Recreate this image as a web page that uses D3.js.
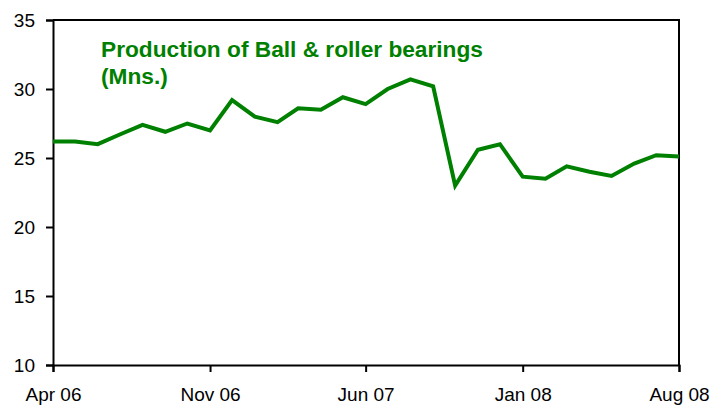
<!DOCTYPE html>
<html>
<head>
<meta charset="utf-8">
<script src="https://cdn.jsdelivr.net/npm/d3@7"></script>
<style>
  body { margin: 0; background: #fff; }
  svg { display: block; font-family: "Liberation Sans", Arial, sans-serif; }
</style>
</head>
<body>
<div id="chart"></div>
<script>
// monthly production, Apr 06 .. Aug 08 (Mns.)
var startMonth = "2006-04";
var production = [26.2, 26.2, 26.0, 26.7, 27.4, 26.9, 27.5, 27.0, 29.2, 28.0,
                  27.6, 28.6, 28.5, 29.4, 28.9, 30.0, 30.7, 30.2, 23.0, 25.6,
                  26.0, 23.65, 23.5, 24.4, 24.0, 23.7, 24.6, 25.2, 25.1];
var xTickLabels = ["Apr 06", "Nov 06", "Jun 07", "Jan 08", "Aug 08"];
var yTicks = [10, 15, 20, 25, 30, 35];
var titleLines = ["Production of Ball & roller bearings", "(Mns.)"];

var width = 726, height = 405;
var margin = {top: 20, right: 47, bottom: 40, left: 53};
var green = "#008000";

var parseMonth = d3.timeParse("%Y-%m");
var start = parseMonth(startMonth);
var data = production.map(function(v, i) {
  return {date: d3.timeMonth.offset(start, i), value: v};
});

var x = d3.scaleTime()
  .domain(d3.extent(data, function(d) { return d.date; }))
  .range([margin.left, width - margin.right]);

var y = d3.scaleLinear()
  .domain([10, 35])
  .range([height - margin.bottom, margin.top]);

var svg = d3.select("#chart").append("svg")
  .attr("width", width)
  .attr("height", height);

// frame top + right
svg.append("path")
  .attr("d", "M" + x.range()[0] + "," + y(35) + "H" + x.range()[1] + "V" + y(10))
  .attr("fill", "none")
  .attr("stroke", "#000")
  .attr("stroke-width", 2);

var parseLabel = d3.timeParse("%b %y");
var xAxis = d3.axisBottom(x)
  .tickValues(xTickLabels.map(function(s) { return parseLabel(s); }))
  .tickFormat(d3.timeFormat("%b %y"))
  .tickSizeOuter(0)
  .tickSize(7)
  .tickPadding(16);

var gx = svg.append("g")
  .attr("transform", "translate(0," + y(10) + ")")
  .call(xAxis);

var yAxis = d3.axisLeft(y)
  .tickValues(yTicks)
  .tickSizeOuter(0)
  .tickSize(7)
  .tickPadding(11);

var gy = svg.append("g")
  .attr("transform", "translate(" + margin.left + ",0)")
  .call(yAxis);

[gx, gy].forEach(function(g) {
  g.selectAll(".domain, line").attr("stroke", "#000").attr("stroke-width", 2);
  g.selectAll("text").attr("fill", "#000").style("font-size", "19px")
    .style("font-family", "'Liberation Sans', Arial, sans-serif");
});

var line = d3.line()
  .x(function(d) { return x(d.date); })
  .y(function(d) { return y(d.value); });

svg.append("path")
  .datum(data)
  .attr("d", line)
  .attr("fill", "none")
  .attr("stroke", green)
  .attr("stroke-width", 4)
  .attr("stroke-linejoin", "miter");

svg.append("text")
  .attr("x", 101)
  .attr("y", 57)
  .attr("fill", green)
  .style("font-size", "22.7px")
  .style("font-weight", "bold")
  .selectAll("tspan")
  .data(titleLines)
  .enter().append("tspan")
  .attr("x", 101)
  .attr("dy", function(d, i) { return i ? 27 : 0; })
  .text(function(d) { return d; });
</script>
</body>
</html>
